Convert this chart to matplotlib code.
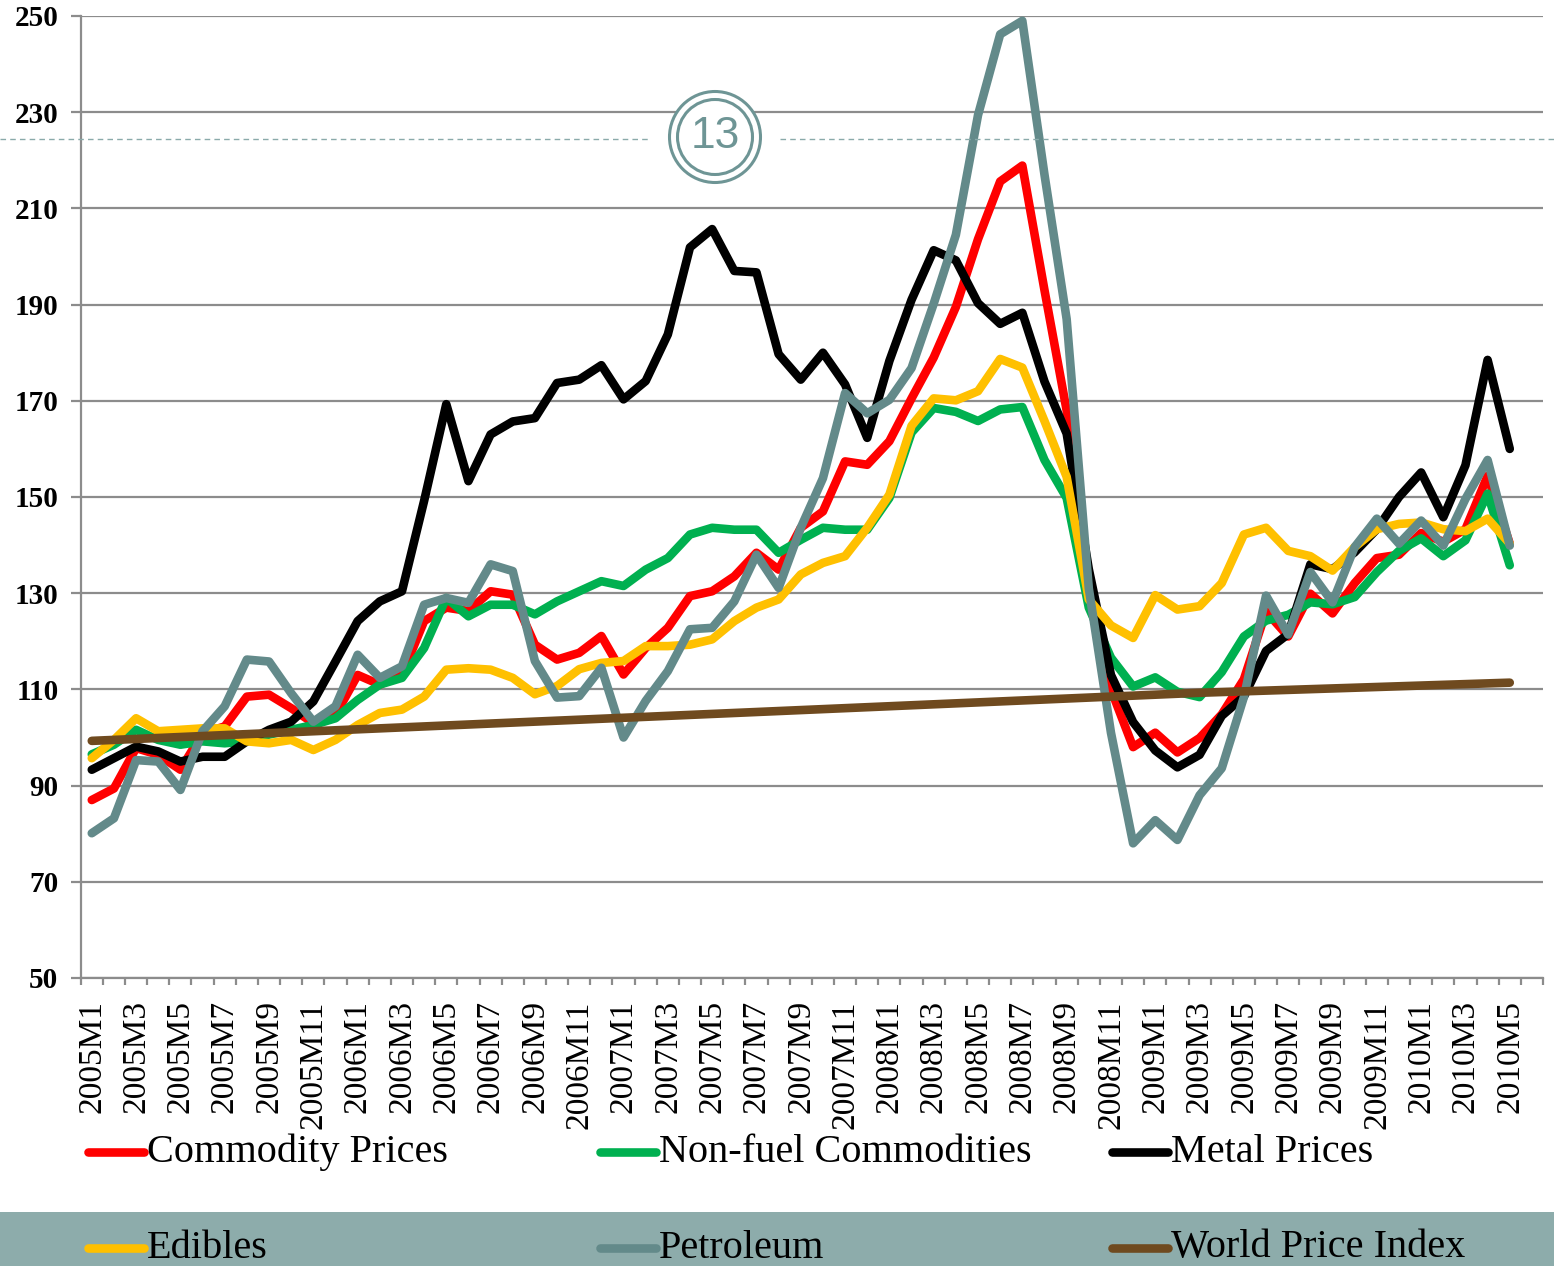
import matplotlib
matplotlib.use('Agg')
import matplotlib.pyplot as plt
import numpy as np
from matplotlib.lines import Line2D
from matplotlib.patches import Rectangle, Ellipse

# ---------------- data ----------------
months = [f"{y}M{m}" for y in range(2005, 2011) for m in range(1, 13)][:65]

commodity = [87.0, 89.4, 97.8, 96.4, 93.3, 100.9, 102.3, 108.5, 108.9, 106.1,
             103.0, 104.7, 113.0, 111.0, 113.0, 124.2, 127.0, 126.3, 130.4, 129.7,
             119.3, 116.2, 117.6, 121.1, 113.1, 118.6, 122.8, 129.4, 130.4, 133.5,
             138.4, 134.9, 143.6, 147.0, 157.4, 156.7, 161.6, 170.5, 179.0, 189.5,
             203.6, 215.6, 218.9, 193.0, 168.0, 132.0, 110.0, 98.0, 101.0, 96.9,
             99.9, 104.8, 112.1, 126.2, 121.0, 129.9, 125.8, 132.1, 137.3, 138.0,
             142.5, 140.7, 143.3, 154.4, 140.3]

nonfuel = [96.5, 98.5, 101.6, 99.5, 98.5, 99.2, 98.8, 99.2, 100.6, 101.6,
           102.6, 104.0, 107.8, 111.0, 112.4, 118.6, 129.0, 125.2, 127.6, 127.6,
           125.6, 128.3, 130.4, 132.5, 131.5, 134.9, 137.3, 142.2, 143.6, 143.2,
           143.2, 138.4, 141.1, 143.6, 143.2, 143.2, 149.8, 163.4, 168.5, 167.7,
           165.8, 168.2, 168.7, 157.7, 149.8, 127.0, 116.6, 110.6, 112.5, 109.5,
           108.4, 113.6, 121.0, 124.3, 125.5, 128.1, 127.7, 129.2, 134.4, 138.8,
           141.4, 137.7, 141.0, 150.7, 135.8]

metal = [93.3, 95.7, 98.1, 97.1, 95.0, 96.0, 96.0, 99.2, 101.6, 103.3,
         107.5, 115.8, 124.2, 128.3, 130.4, 149.2, 169.3, 153.3, 163.0, 165.7,
         166.4, 173.7, 174.4, 177.4, 170.3, 174.1, 183.8, 201.9, 205.7, 197.0,
         196.7, 179.7, 174.4, 180.0, 173.4, 162.3, 178.3, 191.0, 201.3, 199.2,
         190.3, 186.0, 188.3, 174.0, 163.2, 135.0, 113.0, 103.2, 97.3, 93.8,
         96.4, 104.5, 108.5, 118.0, 121.5, 136.0, 135.0, 138.5, 143.3, 150.0,
         155.1, 145.8, 156.6, 178.5, 160.0]

edibles = [95.7, 99.5, 104.0, 101.3, 101.6, 101.9, 101.9, 99.2, 98.8, 99.5,
           97.4, 99.5, 102.6, 105.1, 105.8, 108.5, 114.1, 114.4, 114.1, 112.4,
           109.0, 110.7, 114.2, 115.5, 115.9, 119.0, 119.0, 119.3, 120.4, 124.2,
           127.0, 128.7, 133.9, 136.3, 137.7, 143.6, 150.5, 164.8, 170.5, 170.1,
           172.0, 178.7, 176.9, 165.8, 154.2, 128.7, 123.3, 120.7, 129.6, 126.6,
           127.3, 132.1, 142.2, 143.6, 138.8, 137.7, 134.7, 139.6, 143.3, 144.4,
           144.7, 143.3, 142.9, 145.5, 140.3]

petroleum = [80.1, 83.2, 95.3, 95.0, 89.1, 101.3, 106.5, 116.2, 115.8, 109.2,
             103.3, 106.5, 117.2, 112.4, 114.8, 127.6, 129.0, 128.0, 136.0, 134.6,
             115.9, 108.3, 108.6, 114.5, 100.0, 107.6, 113.8, 122.5, 122.8, 128.3,
             138.0, 131.1, 143.6, 153.9, 171.6, 167.4, 170.2, 176.8, 190.2, 204.5,
             229.4, 246.2, 249.0, 217.0, 187.0, 131.0, 101.0, 78.0, 82.8, 78.7,
             88.0, 93.6, 108.4, 129.5, 121.4, 134.4, 128.1, 139.6, 145.5, 140.3,
             145.1, 139.9, 149.6, 157.7, 139.9]

world = [99.3, 99.5, 99.7, 99.9, 100.1, 100.3, 100.5, 100.7, 100.9, 101.1,
         101.3, 101.5, 101.7, 101.9, 102.1, 102.3, 102.5, 102.7, 102.9, 103.1,
         103.3, 103.5, 103.7, 103.9, 104.1, 104.3, 104.5, 104.7, 104.9, 105.1,
         105.3, 105.5, 105.7, 105.9, 106.1, 106.3, 106.5, 106.7, 106.9, 107.1,
         107.3, 107.5, 107.7, 107.9, 108.1, 108.3, 108.5, 108.7, 108.9, 109.1,
         109.3, 109.45, 109.6, 109.75, 109.9, 110.05, 110.2, 110.35, 110.5, 110.65,
         110.8, 110.95, 111.1, 111.25, 111.4]

series_names = ["Commodity Prices", "Non-fuel Commodities", "Metal Prices",
                "Edibles", "Petroleum", "World Price Index"]
series_values = [commodity, nonfuel, metal, edibles, petroleum, world]
series_colors = ["#FF0000", "#00B050", "#000000", "#FFC000", "#638A8A", "#6F4A1F"]

# ---------------- figure ----------------
W, H = 1554, 1266
def fx(px): return px / W
def fy(py): return 1 - py / H

SERIF = ['Liberation Serif', 'DejaVu Serif']
plt.rcParams['font.family'] = SERIF

fig = plt.figure(figsize=(W / 100, H / 100), dpi=100)
fig.patch.set_facecolor('white')

ax_l, ax_r, ax_t, ax_b = 80.7, 1543, 16, 978
ax = fig.add_axes([fx(ax_l), fy(ax_b), (ax_r - ax_l) / W, (ax_b - ax_t) / H])

LW = 6.2
x = np.arange(len(months))
for i, (name, vals, col) in enumerate(zip(series_names, series_values, series_colors)):
    ax.plot(x, vals, color=col, lw=LW, solid_joinstyle='round',
            solid_capstyle='round', zorder=3 + i, label=name)

gridc = '#8C8C8C'
ax.set_xlim(-0.5, len(months) + 0.5)
ax.set_ylim(50, 250)
ax.set_yticks(np.arange(50, 251, 20))
ax.yaxis.grid(True, color=gridc, lw=1.6)
ax.set_axisbelow(True)
for s in ['top', 'right']:
    ax.spines[s].set_visible(False)
for s in ['left', 'bottom']:
    ax.spines[s].set_color(gridc)
    ax.spines[s].set_linewidth(1.6)

ax.tick_params(axis='y', direction='out', length=7, width=1.6, color=gridc,
               pad=9, labelsize=21)
for lab in ax.get_yticklabels():
    lab.set_fontweight('bold')

ax.set_xticks(np.arange(-0.5, len(months) + 1, 1))
ax.set_xticklabels([])
ax.tick_params(axis='x', which='major', direction='out', length=5, width=1.6,
               color=gridc)
ax.set_xticks(x[::2], minor=True)
ax.set_xticklabels(months[::2], minor=True, rotation=90, va='top', ha='center',
                   fontsize=24)
ax.tick_params(axis='x', which='minor', length=0, pad=16)

# ---------------- legend ----------------
fig.add_artist(Rectangle((0, 0), 1, fy(1212), transform=fig.transFigure,
                         facecolor='#8DACAB', edgecolor='none', zorder=0))
leg_cols = [88, 600, 1112]
leg_rows = [1152, 1248]
for k, (name, col) in enumerate(zip(series_names, series_colors)):
    r, c = divmod(k, 3)
    x0 = leg_cols[c]
    yy = fy(leg_rows[r])
    fig.add_artist(Line2D([fx(x0), fx(x0 + 56)], [yy, yy], color=col, lw=LW,
                          solid_capstyle='round', transform=fig.transFigure))
    fig.text(fx(x0 + 59), yy, name, fontsize=29, va='center', ha='left',
             color='black')

# ---------------- page decoration ----------------
deco = '#6E9595'
yd = fy(139)
fig.add_artist(Line2D([0, fx(650)], [yd, yd], color='#8AAAAA', lw=1,
                      ls=(0, (4, 3)), transform=fig.transFigure))
fig.add_artist(Line2D([fx(780), 1], [yd, yd], color='#8AAAAA', lw=1,
                      ls=(0, (4, 3)), transform=fig.transFigure))
cx, cy = 715, 137
for r in (45.5, 37.5):
    fig.add_artist(Ellipse((fx(cx), fy(cy)), 2 * r / W, 2 * r / H,
                           transform=fig.transFigure, facecolor='none' if r < 40 else 'white',
                           edgecolor=deco, lw=2.2, zorder=20))
fig.text(fx(cx), fy(cy), "13", fontsize=32, color=deco, ha='center', va='center',
         family=['Liberation Sans', 'DejaVu Sans'], zorder=21)

fig.savefig('out.png', dpi=100)
